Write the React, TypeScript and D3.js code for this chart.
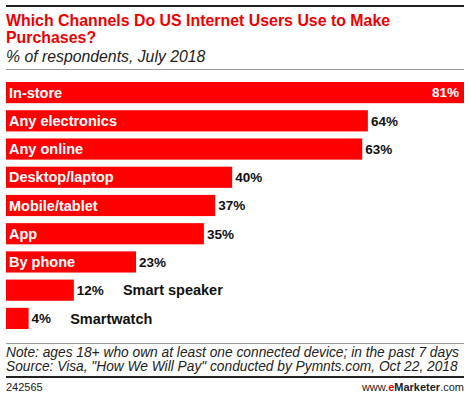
import React, { useEffect, useRef } from 'react';
import * as d3 from 'd3';

const channels = [
  'In-store',
  'Any electronics',
  'Any online',
  'Desktop/laptop',
  'Mobile/tablet',
  'App',
  'By phone',
  'Smart speaker',
  'Smartwatch',
];
const shares = [81, 64, 63, 40, 37, 35, 23, 12, 4];
// short bars carry their label outside, after the value
const outsideLabels = ['Smart speaker', 'Smartwatch'];

const FONT = '"Liberation Sans", Arial, sans-serif';

const App = () => {
  const ref = useRef<SVGSVGElement>(null);

  useEffect(() => {
    const width = 470;
    const height = 399;
    const svg = d3.select(ref.current);
    svg.selectAll('*').remove();

    const left = 6;
    const right = 464;

    // header
    svg
      .append('rect')
      .attr('x', left)
      .attr('y', 5)
      .attr('width', right - left)
      .attr('height', 2)
      .attr('fill', '#222');

    const title = svg
      .append('text')
      .attr('font-family', FONT)
      .attr('font-weight', 'bold')
      .attr('font-size', 15.9)
      .attr('fill', '#e00');
    title.append('tspan').attr('x', left).attr('y', 26).text('Which Channels Do US Internet Users Use to Make');
    title.append('tspan').attr('x', left).attr('y', 43).text('Purchases?');

    svg
      .append('text')
      .attr('x', left)
      .attr('y', 62)
      .attr('font-family', FONT)
      .attr('font-style', 'italic')
      .attr('font-size', 15.8)
      .attr('fill', '#222')
      .text('% of respondents, July 2018');

    svg
      .append('line')
      .attr('x1', left)
      .attr('x2', right)
      .attr('y1', 69.5)
      .attr('y2', 69.5)
      .attr('stroke', '#999')
      .attr('stroke-width', 1);

    // bars
    const x = d3.scaleLinear().domain([0, 81]).range([left, right]);
    const y = d3
      .scaleBand()
      .domain(channels)
      .range([82, 329])
      .paddingInner(0.25)
      .paddingOuter(0);

    const rows = svg
      .append('g')
      .selectAll('g')
      .data(channels)
      .join('g');

    rows
      .append('rect')
      .attr('x', x(0))
      .attr('y', (d) => y(d)!)
      .attr('width', (d, i) => x(shares[i]) - x(0))
      .attr('height', y.bandwidth())
      .attr('fill', '#ff0000');

    rows
      .filter((d) => !outsideLabels.includes(d))
      .append('text')
      .attr('x', left + 3)
      .attr('y', (d) => y(d)! + y.bandwidth() / 2)
      .attr('dy', '0.36em')
      .attr('font-family', FONT)
      .attr('font-weight', 'bold')
      .attr('font-size', 14.5)
      .attr('fill', '#fff')
      .text((d) => d);

    rows.each(function (d, i) {
      const g = d3.select(this);
      const v = shares[i];
      const inside = i === 0;
      const t = g
        .append('text')
        .attr('x', inside ? x(v) - 5 : x(v) + 3)
        .attr('y', y(d)! + y.bandwidth() / 2)
        .attr('dy', '0.36em')
        .attr('text-anchor', inside ? 'end' : 'start')
        .attr('font-family', FONT)
        .attr('font-weight', 'bold')
        .attr('font-size', 13.5)
        .attr('fill', inside ? '#fff' : '#111')
        .text(`${v}%`);
      if (outsideLabels.includes(d)) {
        const w = (t.node() as SVGTextElement).getComputedTextLength();
        g.append('text')
          .attr('x', x(v) + 3 + w + 19)
          .attr('y', y(d)! + y.bandwidth() / 2)
          .attr('dy', '0.36em')
          .attr('font-family', FONT)
          .attr('font-weight', 'bold')
          .attr('font-size', 14.5)
          .attr('fill', '#111')
          .text(d);
      }
    });

    // footer
    svg
      .append('line')
      .attr('x1', left)
      .attr('x2', right)
      .attr('y1', 343.5)
      .attr('y2', 343.5)
      .attr('stroke', '#999')
      .attr('stroke-width', 1);

    const note = svg
      .append('text')
      .attr('font-family', FONT)
      .attr('font-style', 'italic')
      .attr('font-size', 13.75)
      .attr('fill', '#222');
    note.append('tspan').attr('x', left).attr('y', 357).text('Note: ages 18+ who own at least one connected device; in the past 7 days');
    note.append('tspan').attr('x', left).attr('y', 371).text('Source: Visa, "How We Will Pay" conducted by Pymnts.com, Oct 22, 2018');

    svg
      .append('rect')
      .attr('x', left)
      .attr('y', 376)
      .attr('width', right - left)
      .attr('height', 2)
      .attr('fill', '#222');

    svg
      .append('text')
      .attr('x', left)
      .attr('y', 391)
      .attr('font-family', FONT)
      .attr('font-size', 11)
      .attr('fill', '#222')
      .text('242565');

    const brand = svg
      .append('text')
      .attr('x', right)
      .attr('y', 391)
      .attr('text-anchor', 'end')
      .attr('font-family', FONT)
      .attr('font-size', 11)
      .attr('fill', '#222');
    brand.append('tspan').text('www.');
    brand.append('tspan').attr('fill', '#e00').attr('font-weight', 'bold').text('e');
    brand.append('tspan').attr('font-weight', 'bold').text('Marketer');
    brand.append('tspan').text('.com');

    svg.attr('width', width).attr('height', height);
  }, []);

  return (
    <svg
      ref={ref}
      width={470}
      height={399}
      style={{ position: 'absolute', left: 0, top: 0, background: '#fff' }}
    />
  );
};

export default App;
